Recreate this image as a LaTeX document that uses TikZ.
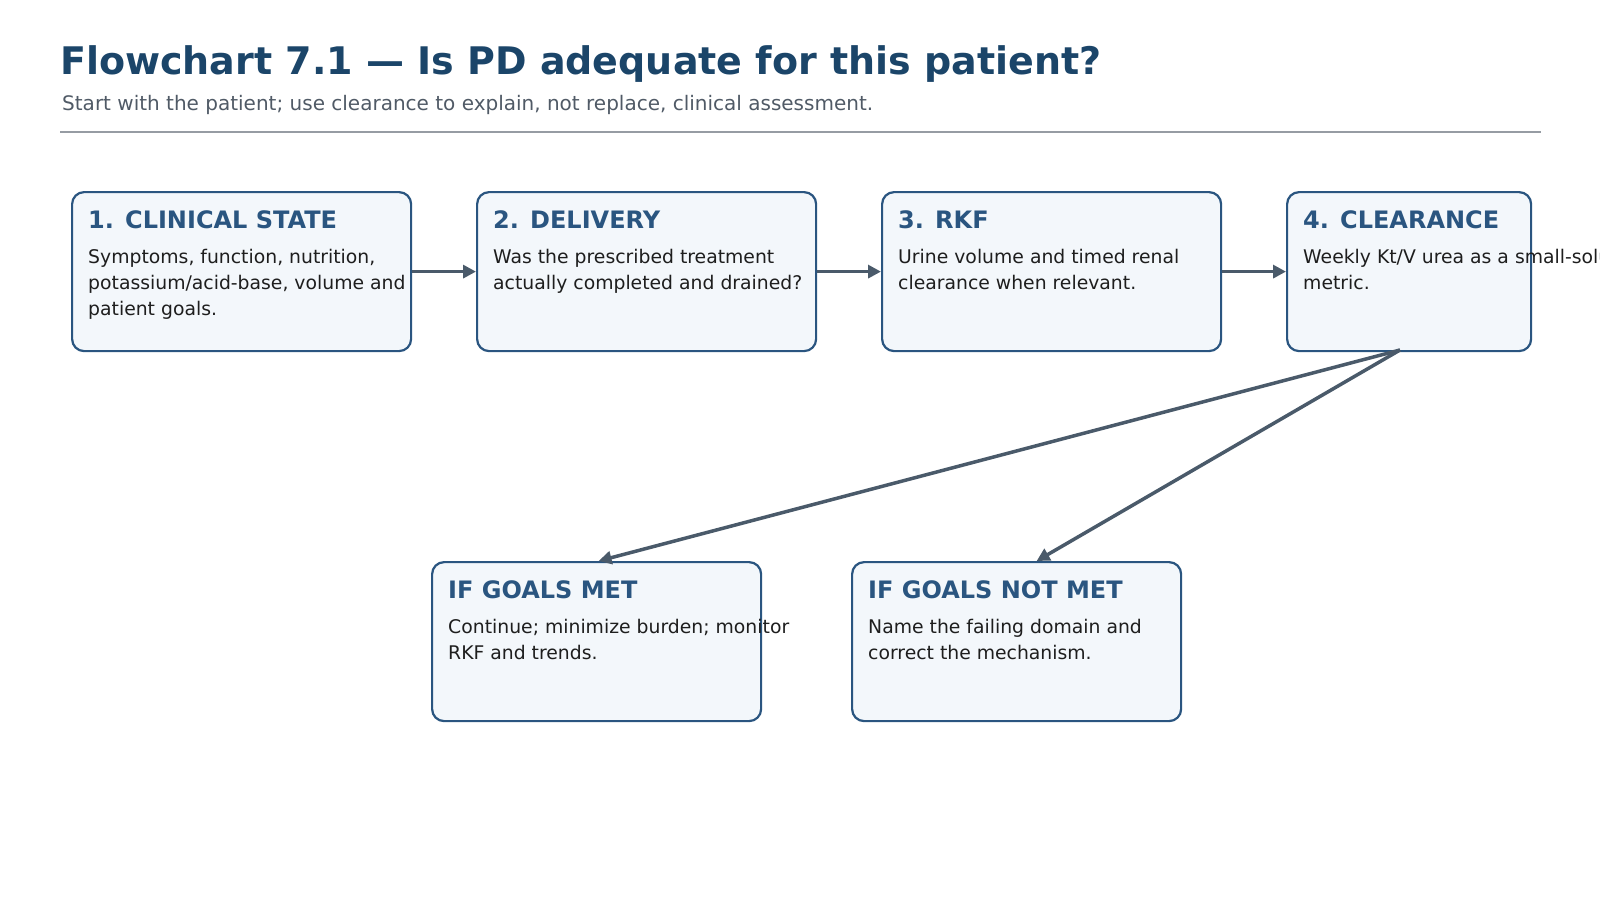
\documentclass[tikz,border=0pt]{standalone}
\usepackage{fontspec}
\setmainfont{DejaVu Sans}
\usetikzlibrary{arrows.meta}
\definecolor{tcol}{HTML}{1B4569}
\definecolor{sub}{HTML}{505A66}
\definecolor{bstroke}{HTML}{2A5580}
\definecolor{bfill}{HTML}{F3F7FB}
\definecolor{arr}{HTML}{4A5A6A}
\definecolor{body}{HTML}{1E1E1E}
\tikzset{
 box/.style={draw=bstroke,fill=bfill,line width=2.2pt,rounded corners=12pt,minimum height=159pt,inner sep=0,anchor=north west},
 bt/.style={anchor=base west,font=\fontsize{24}{28}\selectfont\bfseries,text=bstroke,inner sep=0},
 bb/.style={anchor=north west,font=\fontsize{18.8}{26}\selectfont,text=body,inner sep=0,align=left},
 ar/.style={draw=arr,line width=3.5pt,-{Triangle[length=13pt,width=13pt]}}
}
\begin{document}
\begin{tikzpicture}[x=1pt,y=-1pt]
\useasboundingbox (0,0) rectangle (1600,900);
\node[anchor=base west,inner sep=0,font=\fontsize{38}{44}\selectfont\bfseries,text=tcol] (title) at (60,74) {Flowchart 7.1 — Is PD adequate for this patient?};
\node[anchor=base west,inner sep=0,font=\fontsize{20}{24}\selectfont,text=sub] (subt) at (62,110) {Start with the patient; use clearance to explain, not replace, clinical assessment.};
\draw[color=sub!60,line width=1.4pt] (60,132) -- (1541,132);
\node[box,minimum width=339pt] (b1) at (71,191) {};
\node[box,minimum width=339pt] (b2) at (476,191) {};
\node[box,minimum width=339pt] (b3) at (881,191) {};
\node[box,minimum width=244pt] (b4) at (1286,191) {};
\node[box,minimum width=329pt] (b5) at (431,561) {};
\node[box,minimum width=329pt] (b6) at (851,561) {};
\node[bt] at (88,228) {1. CLINICAL STATE};
\node[bt] at (493,228) {2. DELIVERY};
\node[bt] at (898,228) {3. RKF};
\node[bt] at (1303,228) {4. CLEARANCE};
\node[bt] at (448,598) {IF GOALS MET};
\node[bt] at (868,598) {IF GOALS NOT MET};
\node[bb] at (88,249) {Symptoms, function, nutrition,\\potassium/acid-base, volume and\\patient goals.};
\node[bb] at (493,249) {Was the prescribed treatment\\actually completed and drained?};
\node[bb] at (898,249) {Urine volume and timed renal\\clearance when relevant.};
\node[bb] at (1303,249) {Weekly Kt/V urea as a small-solute\\metric.};
\node[bb] at (448,619) {Continue; minimize burden; monitor\\RKF and trends.};
\node[bb] at (868,619) {Name the failing domain and\\correct the mechanism.};
\draw[ar] (b1.east) -- (b2.west);
\draw[ar] (b2.east) -- (b3.west);
\draw[ar] (b3.east) -- (b4.west);
\coordinate (s) at (1400,350);
\draw[ar] (s) -- ([xshift=2pt]b5.north);
\draw[ar] (s) -- ([xshift=20pt]b6.north);
\end{tikzpicture}
\end{document}
